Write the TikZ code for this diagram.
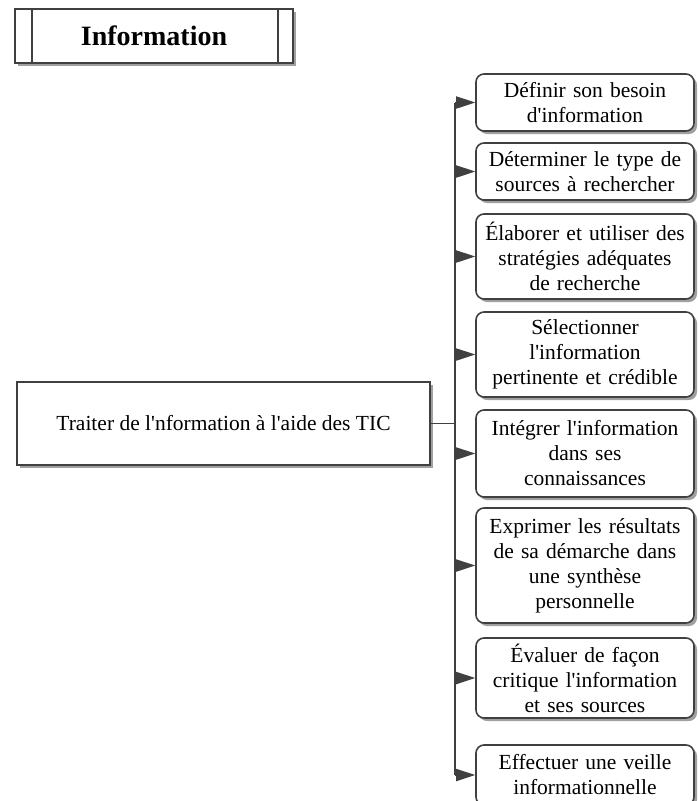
\documentclass[tikz,border=0pt]{standalone}
\usepackage{fontspec}
\setmainfont{Liberation Serif}
\usetikzlibrary{arrows.meta,shadows,calc}

\definecolor{linegray}{HTML}{404040}
\definecolor{shadegray}{HTML}{A0A0A0}

% straight apostrophe
\newcommand{\ap}{\textquotesingle}

\tikzset{
  boxshadow/.style={general shadow={fill=shadegray, shadow xshift=3pt, shadow yshift=-3pt}},
  titlebox/.style={draw=linegray, line width=1.6pt, fill=white, boxshadow,
    minimum width=278pt, minimum height=54pt, inner sep=0pt,
    font=\fontsize{28}{32}\selectfont\bfseries},
  mainbox/.style={draw=linegray, line width=1.6pt, fill=white, boxshadow,
    minimum width=413pt, minimum height=83pt, inner sep=0pt,
    font=\fontsize{21.5}{25}\selectfont},
  taskbox/.style={draw=linegray, line width=1.6pt, fill=white, boxshadow,
    rounded corners=8pt, minimum width=218pt, inner sep=0pt,
    text width=214pt, align=center,
    font=\fontsize{21.5}{25}\selectfont},
  link/.style={draw=linegray, line width=1.8pt},
  tip/.style={link, -{Triangle[length=19pt,width=12pt]}},
}

\begin{document}
\begin{tikzpicture}[x=1pt,y=1pt]
  \clip (0,0) rectangle (697,-801);

  % heading
  \node[titlebox] (title) at (154,-36) {Information};
  \draw[linegray, line width=1.6pt]
    ($(title.north west)+(18,0)$) -- ($(title.south west)+(18,0)$)
    ($(title.north east)+(-16,0)$) -- ($(title.south east)+(-16,0)$);

  % competence
  \node[mainbox] (main) at (223.5,-423.5) {Traiter de l\ap nformation à l\ap aide des TIC};

  % components
  \node[taskbox, minimum height=57pt]  (b1) at (585,-102.5) {Définir son besoin\\d\ap information};
  \node[taskbox, minimum height=57pt]  (b2) at (585,-171.5) {Déterminer le type de\\sources à rechercher};
  \node[taskbox, minimum height=85pt]  (b3) at (585,-256.5) {Élaborer et utiliser des\\stratégies adéquates\\de recherche};
  \node[taskbox, minimum height=85pt]  (b4) at (585,-354.5) {Sélectionner\\l\ap information\\pertinente et crédible};
  \node[taskbox, minimum height=87pt]  (b5) at (585,-453.5) {Intégrer l\ap information\\dans ses\\connaissances};
  \node[taskbox, minimum height=115pt] (b6) at (585,-565.5) {Exprimer les résultats\\de sa démarche dans\\une synthèse\\personnelle};
  \node[taskbox, minimum height=80pt]  (b7) at (585,-678)   {Évaluer de façon\\critique l\ap information\\et ses sources};
  \node[taskbox, minimum height=60pt]  (b8) at (585,-775)   {Effectuer une veille\\informationnelle};

  % trunk and branches
  \coordinate (trunk) at (455,0);
  \draw[link] (b1.west -| trunk) -- (b8.west -| trunk);
  \draw[link] (main.east) -- (main.east -| trunk);
  \foreach \b in {b1,b2,b3,b4,b5,b6,b7,b8}
    \draw[tip] (\b.west -| trunk) -- (\b.west);
\end{tikzpicture}
\end{document}
